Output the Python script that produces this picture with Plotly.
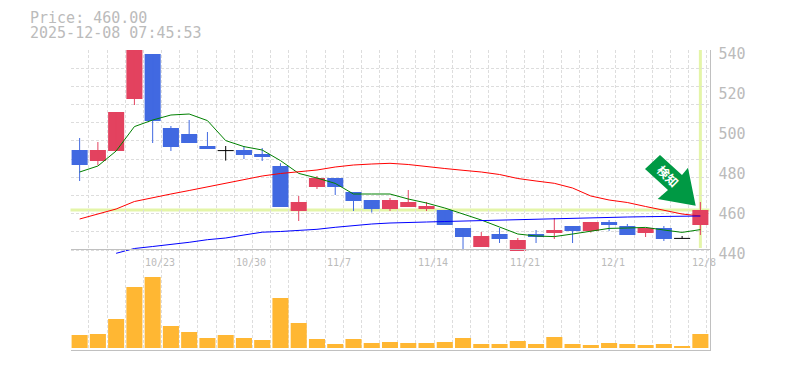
import plotly.graph_objects as go

W, H = 785, 370
dates = ["10/17","10/20","10/21","10/22","10/23","10/24","10/27","10/28","10/29","10/30","10/31",
         "11/4","11/5","11/6","11/7","11/10","11/11","11/12","11/13","11/14","11/17","11/18","11/19","11/20","11/21",
         "11/25","11/26","11/27","11/28","12/1","12/2","12/3","12/4","12/5","12/8"]
opens  = [490,484.5,489.5,515.5,538,501,498,492,489.7,490,488,482,459.5,471.5,476,469,465,460.5,461.5,460.5,460,451,441.5,448,439.5,448,448.5,452,449.5,454,452,448.5,451,445.8,452.5]
highs  = [496,494,509,541,538,502,505,499,492,492,491,483.4,467,477,476,469,465,466,470,464,460,451,449,451,446,450,456,452,454,455,453,451,452,447,464]
lows   = [474.5,482.5,489.5,512.5,493.5,489.5,493.5,490.5,484.7,485.5,484.5,461.5,454.5,470.5,467.5,459.5,458.7,459.5,461.5,459.5,452.5,440.5,441.5,443.5,439.5,443.5,445.5,443.5,448.7,449.5,447.5,446.5,444.5,445.8,447.5]
closes = [482.5,490,509,541,504.5,491.5,493.5,490.5,489.7,487.5,486.5,461.5,464,476,471.5,464.5,460.5,465,464,462,452.5,446.5,447,445.5,445,446.5,450,449.5,454,452.5,447.5,451,445.5,445.8,460]
ma_short = [479,482,489.5,501.7,505,507.5,508,504.7,494.7,491.7,490,484.7,478.3,476,473.3,468,468,468,465.5,463.5,461,458,455,451.5,448,447,446.7,448,449.5,450.8,451,451.3,450,448.8,450.2]
ma_mid = [455.5,458,460.5,464.25,466.25,468,469.75,471.5,473.25,475,477,478.25,479,480,481.5,482.5,483,483.35,482.75,481.65,480.75,479.85,479,477.75,475.75,474.5,473.35,471,467,465,463.75,461.75,459.75,458,457]
ma_long = [438.35,440.75,441.75,442.75,443.85,445.15,446,447.5,448.9,449.25,449.65,450.35,451.35,452.25,453,453.5,453.9,454,454.25,454.5,454.85,455,455.15,455.35,455.5,455.85,456.25,456.5,456.5,456.65,456.85,457,457]
volume = [13,14,29,61,71,22,16,10,13,10,8,50,25,9,4,9,5,6,5,5,6,10,4,4,7,4,11,4,3,5,4,3,4,2,14]
price_ticks = [440,460,480,500,520,540]
date_ticks = ["10/23","10/30","11/7","11/14","11/21","12/1","12/8"]
last_price = 460
price_text = "Price: 460.00"
time_text = "2025-12-08 07:45:53"
badge_text = "検知"
RED, BLUE, ORANGE, PALE = "#E3425F", "#4169E1", "#FFB733", "#E4F5A8"
BLACK = "#000000"
GRID, AXIS, LABEL = "#DDDDDD", "#C0C0C0", "#BBBBBB"
FONT = "DejaVu Sans Mono"

pos = list(range(len(dates)))
colors = [RED if c > o else BLUE if c < o else BLACK for o, c in zip(opens, closes)]
bases = [min(o, c) for o, c in zip(opens, closes)]
heights = [abs(c - o) for o, c in zip(opens, closes)]

def px_x(p): return p / W
def px_y(p): return 1 - p / H

fig = go.Figure()
fig.add_trace(go.Bar(x=pos, y=volume, width=0.88, marker=dict(color=ORANGE, line_width=0), yaxis="y2", xaxis="x2", hoverinfo="skip"))
fig.add_trace(go.Bar(x=pos, y=heights, base=bases, width=0.88, marker=dict(color=colors, line_width=0), hoverinfo="skip"))
for col in (RED, BLUE, BLACK):
    idx = [i for i in pos if colors[i] == col]
    fig.add_trace(go.Scatter(x=[pos[i] for i in idx], y=[lows[i] for i in idx], mode="markers", marker=dict(opacity=0, size=1), hoverinfo="skip",
        error_y=dict(type="data", symmetric=False, array=[highs[i] - lows[i] for i in idx], arrayminus=[0] * len(idx), width=0, thickness=1, color=col)))
idx = [i for i in pos if colors[i] == BLACK]
fig.add_trace(go.Scatter(x=[pos[i] for i in idx], y=[opens[i] for i in idx], mode="markers", marker=dict(opacity=0, size=1), hoverinfo="skip",
    error_x=dict(type="constant", value=0.44, width=0, thickness=1, color=BLACK)))
fig.add_trace(go.Scatter(x=pos, y=ma_short, mode="lines", line=dict(color="#008000", width=1), hoverinfo="skip"))
fig.add_trace(go.Scatter(x=pos, y=ma_mid, mode="lines", line=dict(color="#FF0000", width=1), hoverinfo="skip"))
fig.add_trace(go.Scatter(x=pos[2:], y=ma_long, mode="lines", line=dict(color="#0000FF", width=1), hoverinfo="skip"))
fig.add_trace(go.Scatter(x=[pos[0]], y=[last_price], yaxis="y3", mode="markers", marker=dict(opacity=0), hoverinfo="skip"))

x_common = dict(range=[-0.5, 34.5], tickmode="linear", tick0=-0.489, dtick=0.9953, showticklabels=False, ticks="",
                showgrid=True, gridcolor=GRID, griddash="3px,2px", gridwidth=1, zeroline=False, fixedrange=True,
                domain=[px_x(70.5), px_x(709.5)])
annotations = [dict(xref="paper", yref="paper", x=px_x(29), y=px_y(y), text=t, showarrow=False, xanchor="left", yanchor="middle",
                    xshift=-1, font=dict(family=FONT, size=15, color=LABEL))
               for y, t in ((18, price_text), (33, time_text))]
annotations += [dict(xref="x", yref="paper", x=dates.index(t) - 0.5, y=px_y(262), text=t, showarrow=False, xanchor="left", yanchor="middle",
                     xshift=-1, font=dict(family=FONT, size=10, color=LABEL)) for t in date_ticks]
pts = [(660,155),(682,175),(688,167.7),(695.7,205.7),(657.7,199),(668,190),(645,169)]
arrow = "M " + " L ".join(f"{px_x(a):.5f} {px_y(b):.5f}" for a, b in pts) + " Z"
shapes = [dict(type="line", xref="x domain", yref="y", x0=0, x1=1, y0=last_price, y1=last_price, line=dict(color=PALE, width=3), layer="below"),
          dict(type="line", xref="x", yref="paper", x0=pos[-1], x1=pos[-1], y0=px_y(50), y1=px_y(248), line=dict(color=PALE, width=3), layer="below"),
          dict(type="path", xref="paper", yref="paper", path=arrow, fillcolor="#009944", line_width=0, layer="above"),
          dict(type="rect", xref="paper", yref="paper", x0=px_x(647), x1=px_x(687), y0=px_y(157), y1=px_y(197), fillcolor="rgba(0,0,0,0)", line_width=0, layer="above",
               label=dict(text="<b>" + badge_text + "</b>", textangle=45, textposition="middle center",
                          font=dict(family="Noto Sans CJK JP", size=12, color="#FFFFFF")))]

fig.update_layout(width=W, height=H, autosize=False, margin=dict(l=0, r=0, t=0, b=0, pad=0, autoexpand=False), paper_bgcolor="white", plot_bgcolor="rgba(0,0,0,0)",
    showlegend=False, barmode="overlay", annotations=annotations, shapes=shapes,
    xaxis=dict(x_common, showline=False),
    xaxis2=dict(x_common, anchor="y2", showline=True, linecolor=AXIS, mirror=True),
    yaxis=dict(domain=[px_y(254), px_y(50)], range=[438, 540], tickmode="linear", tick0=440, dtick=100/11, showticklabels=False, ticks="",
               showgrid=True, gridcolor=GRID, griddash="3px,2px", zeroline=False, fixedrange=True, showline=True, linecolor=AXIS, side="right", anchor="x"),
    yaxis2=dict(domain=[px_y(350), px_y(250)], range=[-2, 98], showticklabels=False, ticks="", showgrid=False, zeroline=False, fixedrange=True,
                showline=True, linecolor=AXIS, side="right", anchor="x2"),
    yaxis3=dict(overlaying="y", side="right", range=[438, 540], tickvals=price_ticks, ticklabelshift=4, showgrid=False, zeroline=False,
                tickfont=dict(family=FONT, size=15, color=LABEL), anchor="x", fixedrange=True, ticks="", showline=False, ticklabelstandoff=8))
fig.write_html("out.html", config=dict(displayModeBar=False), post_script="document.body.style.margin='0';")
